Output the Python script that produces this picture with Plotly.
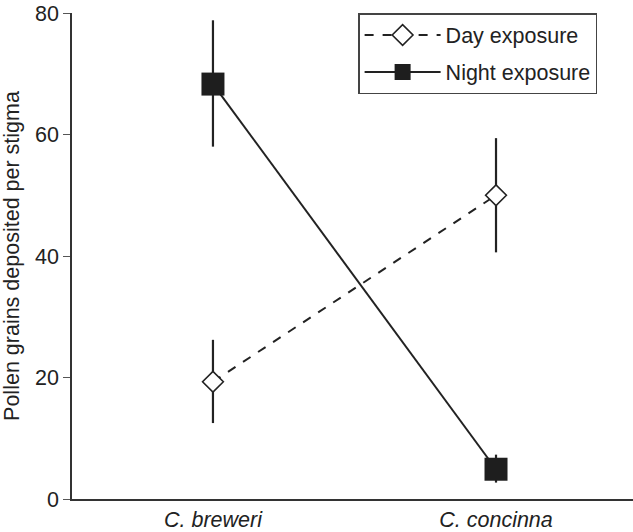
import plotly.graph_objects as go

categories = ["C. breweri", "C. concinna"]
day_values = [19.3, 50.0]
day_err_plus = [6.9, 9.4]
day_err_minus = [6.8, 9.4]
night_values = [68.3, 4.9]
night_err_plus = [10.5, 2.4]
night_err_minus = [10.3, 2.2]
y_ticks = [0, 20, 40, 60, 80]

xpos = list(range(len(categories)))

fig = go.Figure()
fig.add_trace(go.Scatter(
    x=xpos, y=day_values, name="Day exposure", mode="lines+markers",
    legendgroup="day",
    line=dict(color="#222", width=2, dash="dash"),
    marker=dict(symbol="diamond", size=16, color="white", line=dict(color="#222", width=1.6)),
    error_y=dict(type="data", symmetric=False, array=day_err_plus, arrayminus=day_err_minus,
                 width=0, thickness=2.2, color="#222"),
))
fig.add_trace(go.Scatter(
    x=xpos, y=night_values, name="Night exposure", mode="lines+markers",
    legendgroup="night",
    line=dict(color="#222", width=2),
    marker=dict(symbol="square", size=23, color="#1e1e1e", line=dict(color="#1e1e1e", width=0)),
    error_y=dict(type="data", symmetric=False, array=night_err_plus, arrayminus=night_err_minus,
                 width=0, thickness=2.2, color="#222"),
))

fig.update_layout(
    width=633, height=532,
    margin=dict(l=72, r=0, t=13, b=33),
    plot_bgcolor="white", paper_bgcolor="white",
    font=dict(family="Liberation Sans, Arial, sans-serif", size=21.5, color="#222"),
    showlegend=True,
    legend=dict(x=0.51, y=1, xanchor="left", yanchor="top",
                bordercolor="#444", borderwidth=1.5, bgcolor="white",
                font=dict(size=21.5), itemwidth=76, traceorder="grouped", tracegroupgap=6),
    xaxis=dict(
        tickmode="array", tickvals=xpos,
        ticktext=["<i>" + c + "</i>" for c in categories],
        range=[-0.498, 1.484], showgrid=False, zeroline=False,
        showline=True, linecolor="#333", linewidth=1.5, ticks="",
        tickfont=dict(size=21.5),
    ),
    yaxis=dict(
        range=[0, 80], tickmode="array", tickvals=y_ticks,
        showgrid=False, zeroline=False, showline=True, linecolor="#333", linewidth=1.5,
        ticks="outside", ticklen=7, tickwidth=1, tickcolor="#555",
        tickfont=dict(size=21.5), ticklabeloverflow="allow",
        title=dict(text="Pollen grains deposited per stigma", font=dict(size=21.5), standoff=12),
    ),
)

fig.write_html("out.html", config={"displayModeBar": False},
               post_script="document.body.style.margin='0';")
